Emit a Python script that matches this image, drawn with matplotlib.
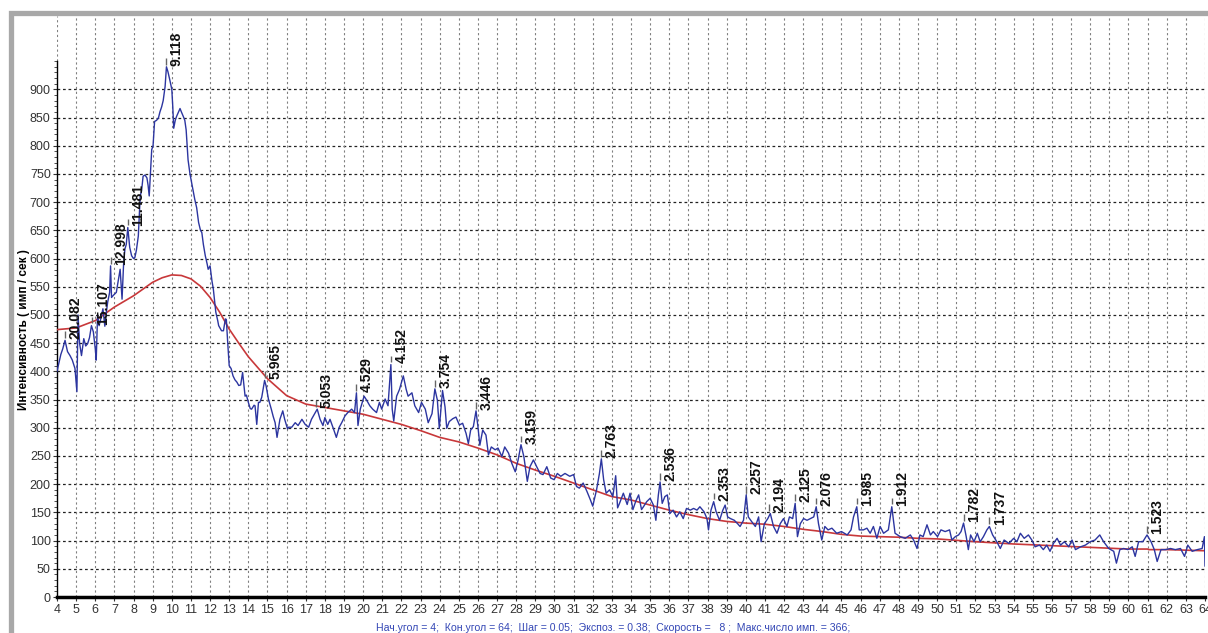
import numpy as np
import matplotlib
matplotlib.use("Agg")
import matplotlib.pyplot as plt
from matplotlib.patches import Rectangle

plt.rcParams['font.family'] = ['Liberation Sans Narrow', 'Liberation Sans', 'DejaVu Sans']

# -------------------------
# Data
# -------------------------
two_theta = [
    4.0, 4.1, 4.2, 4.3, 4.42, 4.55, 4.68, 4.8, 4.94, 5.04, 5.1, 5.18, 5.28, 5.4, 5.5, 5.6, 5.7, 5.8, 5.9, 6.0,
    6.05, 6.12, 6.2, 6.3, 6.4, 6.5, 6.58, 6.65, 6.75, 6.8, 6.85, 6.95, 7.1, 7.2, 7.3, 7.4, 7.48, 7.55, 7.62, 7.7,
    7.8, 7.9, 8.0, 8.07, 8.15, 8.25, 8.35, 8.42, 8.5, 8.6, 8.7, 8.76, 8.82, 8.9, 8.95, 9.02, 9.1, 9.2, 9.3, 9.38,
    9.47, 9.55, 9.65, 9.72, 9.8, 9.9, 10.0, 10.05, 10.1, 10.18, 10.25, 10.35, 10.43, 10.5, 10.6, 10.68, 10.75,
    10.85, 10.95, 11.04, 11.12, 11.2, 11.3, 11.4, 11.5, 11.57, 11.65, 11.75, 11.85, 11.9, 12.0, 12.1, 12.17,
    12.25, 12.3, 12.4, 12.45, 12.55, 12.6, 12.7, 12.8, 12.85, 12.92, 13.0, 13.1, 13.2, 13.3, 13.4, 13.5, 13.6,
    13.7, 13.83, 13.9, 14.0, 14.1, 14.17, 14.3, 14.35, 14.44, 14.53, 14.6, 14.7, 14.85, 14.93, 15.05, 15.2, 15.3,
    15.4, 15.5, 15.65, 15.8, 15.9, 16.05, 16.1, 16.27, 16.45, 16.6, 16.8, 16.97, 17.15, 17.3, 17.5, 17.6, 17.75,
    17.9, 18.0, 18.15, 18.27, 18.45, 18.6, 18.75, 18.88, 19.05, 19.2, 19.4, 19.55, 19.65, 19.73, 19.85, 20.05,
    20.2, 20.35, 20.5, 20.7, 20.85, 20.97, 21.15, 21.3, 21.45, 21.52, 21.6, 21.75, 21.9, 22.1, 22.25, 22.35,
    22.55, 22.7, 22.9, 23.05, 23.25, 23.4, 23.6, 23.75, 23.88, 23.98, 24.15, 24.28, 24.37, 24.5, 24.68, 24.85,
    25.03, 25.2, 25.38, 25.5, 25.62, 25.76, 25.9, 26.0, 26.1, 26.25, 26.42, 26.55, 26.7, 26.9, 27.05, 27.25,
    27.4, 27.6, 27.77, 27.95, 28.1, 28.25, 28.4, 28.58, 28.72, 28.9, 29.07, 29.25, 29.4, 29.6, 29.8, 29.98,
    30.15, 30.33, 30.55, 30.8, 31.0, 31.15, 31.3, 31.5, 31.7, 31.88, 32.0, 32.2, 32.35, 32.45, 32.57, 32.7,
    32.88, 33.05, 33.2, 33.3, 33.4, 33.6, 33.8, 33.95, 34.1, 34.25, 34.4, 34.55, 34.65, 34.82, 35.0, 35.17,
    35.3, 35.43, 35.52, 35.63, 35.77, 35.9, 36.03, 36.2, 36.38, 36.55, 36.73, 36.9, 37.1, 37.27, 37.45, 37.6,
    37.82, 37.97, 38.05, 38.18, 38.32, 38.45, 38.63, 38.8, 38.92, 39.05, 39.2, 39.4, 39.57, 39.7, 39.88, 40.02,
    40.13, 40.3, 40.5, 40.67, 40.8, 40.97, 41.15, 41.28, 41.45, 41.63, 41.8, 41.97, 42.15, 42.28, 42.45, 42.58,
    42.7, 42.85, 43.02, 43.2, 43.37, 43.55, 43.68, 43.8, 43.97, 44.13, 44.3, 44.5, 44.75, 45.0, 45.3, 45.5,
    45.63, 45.8, 45.93, 46.15, 46.33, 46.5, 46.67, 46.85, 47.02, 47.2, 47.45, 47.63, 47.8, 48.07, 48.33, 48.6,
    48.77, 48.95, 49.1, 49.27, 49.47, 49.65, 49.8, 50.02, 50.2, 50.42, 50.65, 50.77, 50.95, 51.12, 51.25, 51.38,
    51.52, 51.63, 51.75, 51.93, 52.1, 52.25, 52.42, 52.6, 52.73, 52.9, 53.12, 53.3, 53.5, 53.75, 54.0, 54.17,
    54.35, 54.55, 54.77, 54.95, 55.12, 55.35, 55.55, 55.73, 55.9, 56.08, 56.27, 56.45, 56.65, 56.88, 57.05,
    57.23, 57.5, 57.75, 58.0, 58.25, 58.5, 58.7, 58.97, 59.23, 59.37, 59.55, 59.75, 59.97, 60.2, 60.35, 60.53,
    60.75, 60.97, 61.18, 61.35, 61.5, 61.7, 61.93, 62.2, 62.45, 62.72, 62.93, 63.1, 63.33, 63.6, 63.85, 63.97,
    64.0,
]

counts = [
    400, 415, 430, 440, 455, 435, 428, 420, 405, 364, 500, 450, 428, 458, 445, 449, 460, 481, 470, 440,
    420, 500, 481, 495, 511, 480, 505, 523, 540, 587, 531, 535, 540, 560, 581, 528, 590, 617, 625, 655,
    620, 605, 600, 602, 615, 640, 711, 720, 746, 748, 743, 730, 711, 760, 793, 800, 843, 845, 849, 860,
    869, 880, 905, 940, 931, 916, 900, 870, 831, 845, 852, 860, 866, 860, 852, 845, 828,
    775, 750, 734, 720, 705, 690, 664, 650, 646, 625, 605, 590, 581, 587, 560, 546,
    520, 505, 490, 481, 475, 472, 472, 493, 492, 452, 410, 405, 392, 385, 381, 375, 376,
    398, 356, 358, 345, 334, 333, 340, 339, 306, 345, 345, 354, 384, 374, 351, 333, 320,
    309, 283, 315, 330, 315, 298, 301, 301, 309, 304, 315, 306, 301, 315, 327, 333, 315,
    304, 318, 306, 315, 298, 283, 301, 309, 321, 327, 333, 327, 362, 304, 333, 356,
    348, 339, 333, 327, 345, 333, 351, 339, 412, 333, 312, 356, 368, 392, 368, 356,
    362, 339, 327, 345, 333, 309, 325, 369, 349, 299, 366, 337, 299, 311, 316, 319,
    305, 308, 290, 272, 296, 302, 330, 302, 269, 296, 287, 252, 266, 261, 264, 249,
    266, 255, 237, 222, 243, 270, 249, 205, 231, 243, 231, 219, 217, 231, 211, 208,
    219, 214, 219, 214, 217, 196, 193, 202, 187, 172, 161, 190, 219, 245, 208, 184,
    190, 178, 215, 158, 166, 184, 164, 184, 155, 170, 181, 155, 160, 169, 175, 163,
    136, 181, 204, 166, 178, 181, 148, 154, 142, 151, 139, 157, 154, 157, 154, 160,
    151, 139, 119, 154, 169, 151, 136, 154, 163, 142, 139, 136, 130, 125, 136, 181,
    142, 134, 125, 142, 98, 130, 139, 148, 125, 113, 130, 139, 125, 142, 139, 166,
    107, 130, 139, 136, 139, 142, 160, 130, 101, 125, 119, 122, 113, 116, 110, 119,
    142, 160, 119, 119, 122, 113, 125, 104, 125, 113, 119, 160, 113, 107, 104, 110,
    101, 86, 110, 107, 128, 110, 116, 107, 119, 116, 119, 101, 107, 110, 116, 131,
    107, 84, 110, 98, 113, 98, 107, 119, 125, 110, 98, 86, 101, 95, 104, 98,
    113, 104, 110, 101, 89, 92, 84, 92, 81, 95, 104, 92, 98, 89, 101,
    84, 89, 92, 98, 101, 110, 98, 86, 81, 60, 84, 86, 84, 89, 72, 98,
    98, 110, 98, 84, 63, 84, 84, 86, 84, 86, 72, 92, 81, 84, 86, 107,
    55,
]

# background curve
bg_theta = [4, 5, 6, 7, 8, 9, 9.5, 10, 10.5, 11, 11.5, 12, 12.5, 13, 13.5, 14, 15, 16, 17, 18, 19, 20,
            21, 22, 23, 24, 25, 26, 27, 28, 29, 30, 31, 32, 33, 34, 35, 36, 37, 38, 39, 40, 41,
            42, 43, 44, 45, 46, 47, 48, 49, 50, 52, 54, 56, 58, 60, 61, 61.05, 62, 64]
bg_counts = [474, 477, 490, 514, 534, 558, 566, 571, 570, 564, 551, 531, 505, 475, 450, 426, 387, 357,
             342, 336, 330, 324, 315, 306, 295, 283, 275, 264, 252, 237, 225, 214, 202, 190, 178,
             172, 163, 154, 146, 139, 134, 131, 129, 125, 120, 116, 111, 108, 107, 106, 104, 103,
             98, 94, 91, 88, 85, 85, 84, 84, 82]

# peak d-spacings and their 2-theta positions
peak_d = ['20.082', '15.107', '12.998', '11.481', '9.118', '5.965', '5.053', '4.529', '4.152',
          '3.754', '3.446', '3.159', '2.763', '2.536', '2.353', '2.257', '2.194', '2.125',
          '2.076', '1.985', '1.912', '1.782', '1.737', '1.523']
peak_pos = [4.40, 5.85, 6.80, 7.70, 9.70, 14.85, 17.55, 19.65, 21.45, 23.75, 25.90, 28.25,
            32.45, 35.52, 38.32, 40.02, 41.20, 42.58, 43.68, 45.80, 47.63, 51.38, 52.73, 60.97]

info = ("Нач.угол = 4;  Кон.угол = 64;  Шаг = 0.05;  Экспоз. = 0.38;  "
        "Скорость =   8 ;  Макс.число имп. = 366;")

# -------------------------
# Figure
# -------------------------
fig = plt.figure(figsize=(12.08, 6.33), dpi=100)
fig.patch.set_facecolor('white')

ax = fig.add_axes([57 / 1208, 1 - 597 / 633, (1205 - 57) / 1208, (597 - 16) / 633])
ax.set_xlim(4, 64)
ax.set_ylim(0, 1030)

# grid
for yv in range(50, 901, 50):
    ax.axhline(yv, color='#222222', lw=0.9, ls=(0, (2.2, 2.2)), zorder=1)
for xv in range(5, 65):
    ax.axvline(xv, color='#808080', lw=0.8, ls=(0, (2.0, 2.4)), zorder=1)
ax.axvline(4, ymin=950 / 1030, color='#808080', lw=0.8, ls=(0, (2.0, 2.4)), zorder=1)

tt = np.array(two_theta)
cc = np.array(counts)

ax.plot(bg_theta, bg_counts, color='#c8383a', lw=1.2, zorder=3)
ax.plot(tt, cc, color='#2c35a0', lw=1.0, zorder=4)

# peak labels
for lab, pos in zip(peak_d, peak_pos):
    near = np.abs(tt - pos) <= 0.2
    top = cc[near].max()
    ax.vlines(pos, top + 4, top + 16, color='#666666', lw=1.0, zorder=5)
    ax.annotate(lab, xy=(pos, top + 2), xytext=(2.5, 0), textcoords='offset points',
                rotation=90, ha='left', va='bottom', fontsize=10, fontweight='bold',
                color='#111111', zorder=6)

# axes styling
for side in ['top', 'right']:
    ax.spines[side].set_visible(False)
ax.spines['left'].set_bounds(0, 950)
ax.spines['left'].set_linewidth(1.0)
ax.spines['bottom'].set_linewidth(2.5)

ax.set_xticks(range(4, 65))
ax.set_yticks(range(0, 901, 50))
ax.set_yticks(range(0, 951, 10), minor=True)
ax.tick_params(axis='x', length=3, width=0.8, labelsize=9, colors='#333333', pad=2)
ax.tick_params(axis='y', which='major', length=3, width=0.8, labelsize=9, colors='#333333', pad=1.5)
ax.tick_params(axis='y', which='minor', length=2, width=0.6, colors='#333333')

ax.set_ylabel('Интенсивность ( имп / сек )', fontsize=8.5, fontweight='bold')
ax.yaxis.set_label_coords(-0.0235, 0.46)

fig.text(613 / 1208, 1 - 628 / 633, info, ha='center', va='center', fontsize=7.6, color='#3346b5')

# gray frame
fig.patches.append(Rectangle((11 / 1208, -0.05), 1.1, 1 - 12.5 / 633 + 0.05,
                             transform=fig.transFigure, fill=False,
                             edgecolor='#a8a8a8', lw=3.8, zorder=0))

fig.savefig('out.png', dpi=100)
